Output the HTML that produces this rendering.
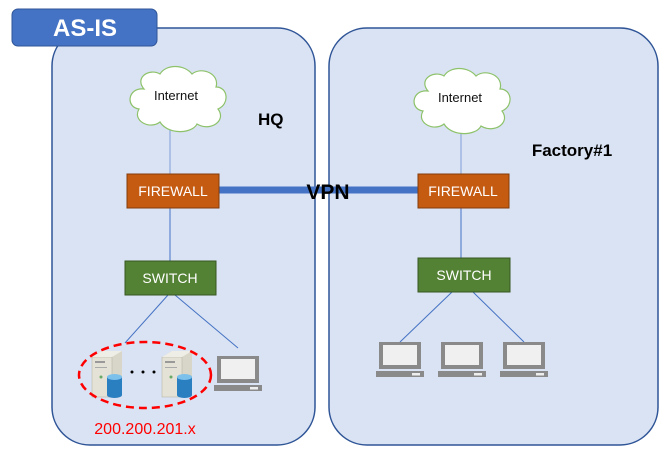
<!DOCTYPE html>
<html><head><meta charset="utf-8"><style>
html,body{margin:0;padding:0;background:#fff;}
svg{display:block;font-family:"Liberation Sans","Noto Sans CJK KR",sans-serif;}
</style></head><body>
<svg width="672" height="462" viewBox="0 0 672 462" xmlns="http://www.w3.org/2000/svg">
<defs>
<g id="cloud">
<path d="M-32,-10 C-48,-12 -51,8 -37,10 C-44,22 -26,31 -16,23 C-8,36 16,35 21,25 C34,33 51,22 42,10 C54,5 52,-12 40,-12 C44,-25 26,-33 16,-25 C8,-35 -10,-35 -16,-25 C-26,-31 -42,-22 -32,-10 Z" fill="#fff" stroke="#8dc26a" stroke-width="1.2"/>
</g>
<g id="laptop">
<rect x="3" y="0" width="42" height="27" fill="#8a8a8a"/>
<rect x="7" y="3" width="34" height="20" fill="#f0f0f0"/>
<rect x="0" y="29" width="48" height="6" fill="#8a8a8a"/>
<rect x="36" y="31" width="8" height="2.5" fill="#eee"/>
</g>
<g id="server">
<path d="M0,6 L10,0 L30,0 L30,40 L20,46 L0,46 Z" fill="#d8d6c8"/>
<rect x="0" y="6" width="20" height="40" fill="#e4e2d6" stroke="#b0ae9e" stroke-width="0.5"/>
<path d="M0,6 L10,0 L30,0 L20,6 Z" fill="#efeee6"/>
<rect x="3" y="10" width="10" height="2" fill="#999"/>
<rect x="3" y="16" width="12" height="1" fill="#aaa"/>
<circle cx="9" cy="26" r="1.5" fill="#6a6"/>
<rect x="15" y="26" width="15" height="18" fill="#2a7fc0"/>
<ellipse cx="22.5" cy="26" rx="7.5" ry="3" fill="#7cc0ec"/>
<ellipse cx="22.5" cy="44" rx="7.5" ry="3" fill="#2a7fc0"/>
</g>
</defs>
<rect x="52" y="28" width="263" height="417" rx="38" fill="#dae3f3" stroke="#2f5597" stroke-width="1.5"/>
<rect x="329" y="28" width="329" height="417" rx="38" fill="#dae3f3" stroke="#2f5597" stroke-width="1.5"/>
<rect x="12" y="9" width="145" height="37" rx="6" fill="#4472c4" stroke="#2f5597" stroke-width="1"/>
<text x="85" y="36" font-size="24" font-weight="bold" fill="#fff" text-anchor="middle">AS-IS</text>

<line x1="170" y1="128" x2="170" y2="174" stroke="#8faadc" stroke-width="1.2"/>
<line x1="170" y1="208" x2="170" y2="261" stroke="#4472c4" stroke-width="1"/>
<line x1="461" y1="130" x2="461" y2="174" stroke="#8faadc" stroke-width="1.2"/>
<line x1="461" y1="208" x2="461" y2="258" stroke="#4472c4" stroke-width="1"/>
<line x1="219" y1="190" x2="418" y2="190" stroke="#4472c4" stroke-width="7"/>
<line x1="168" y1="295" x2="125" y2="343" stroke="#4472c4" stroke-width="1"/>
<line x1="175" y1="295" x2="238" y2="348" stroke="#4472c4" stroke-width="1"/>
<line x1="452" y1="292" x2="400" y2="342" stroke="#4472c4" stroke-width="1"/>
<line x1="473" y1="292" x2="524" y2="342" stroke="#4472c4" stroke-width="1"/>

<use href="#cloud" transform="translate(176,99)"/>
<text x="176" y="100" font-size="13" text-anchor="middle" fill="#111">Internet</text>
<use href="#cloud" transform="translate(460,101)"/>
<text x="460" y="102" font-size="13" text-anchor="middle" fill="#111">Internet</text>

<text x="258" y="125" font-size="17" font-weight="bold">HQ</text>
<text x="572" y="156" font-size="17" font-weight="bold" text-anchor="middle">Factory#1</text>
<text x="328" y="199" font-size="21" font-weight="bold" text-anchor="middle">VPN</text>

<rect x="127" y="174" width="92" height="34" fill="#c55a11" stroke="#843c0c"/>
<text x="173" y="196" font-size="14" fill="#fff" text-anchor="middle">FIREWALL</text>
<rect x="418" y="174" width="91" height="34" fill="#c55a11" stroke="#843c0c"/>
<text x="463" y="196" font-size="14" fill="#fff" text-anchor="middle">FIREWALL</text>
<rect x="125" y="261" width="91" height="34" fill="#548235" stroke="#385723"/>
<text x="170" y="283" font-size="14" fill="#fff" text-anchor="middle">SWITCH</text>
<rect x="418" y="258" width="92" height="34" fill="#548235" stroke="#385723"/>
<text x="464" y="280" font-size="14" fill="#fff" text-anchor="middle">SWITCH</text>

<use href="#server" transform="translate(92,351)"/>
<use href="#server" transform="translate(162,351)"/>
<circle cx="132" cy="372" r="1.5" fill="#000"/><circle cx="143" cy="372" r="1.5" fill="#000"/><circle cx="154" cy="372" r="1.5" fill="#000"/>
<ellipse cx="145" cy="375" rx="66" ry="33" fill="none" stroke="#f00" stroke-width="2.5" stroke-dasharray="8,5"/>
<text x="145" y="434" font-size="16" fill="#f00" text-anchor="middle">200.200.201.x</text>

<use href="#laptop" transform="translate(214,356)"/>
<use href="#laptop" transform="translate(376,342)"/>
<use href="#laptop" transform="translate(438,342)"/>
<use href="#laptop" transform="translate(500,342)"/>
</svg>
</body></html>
